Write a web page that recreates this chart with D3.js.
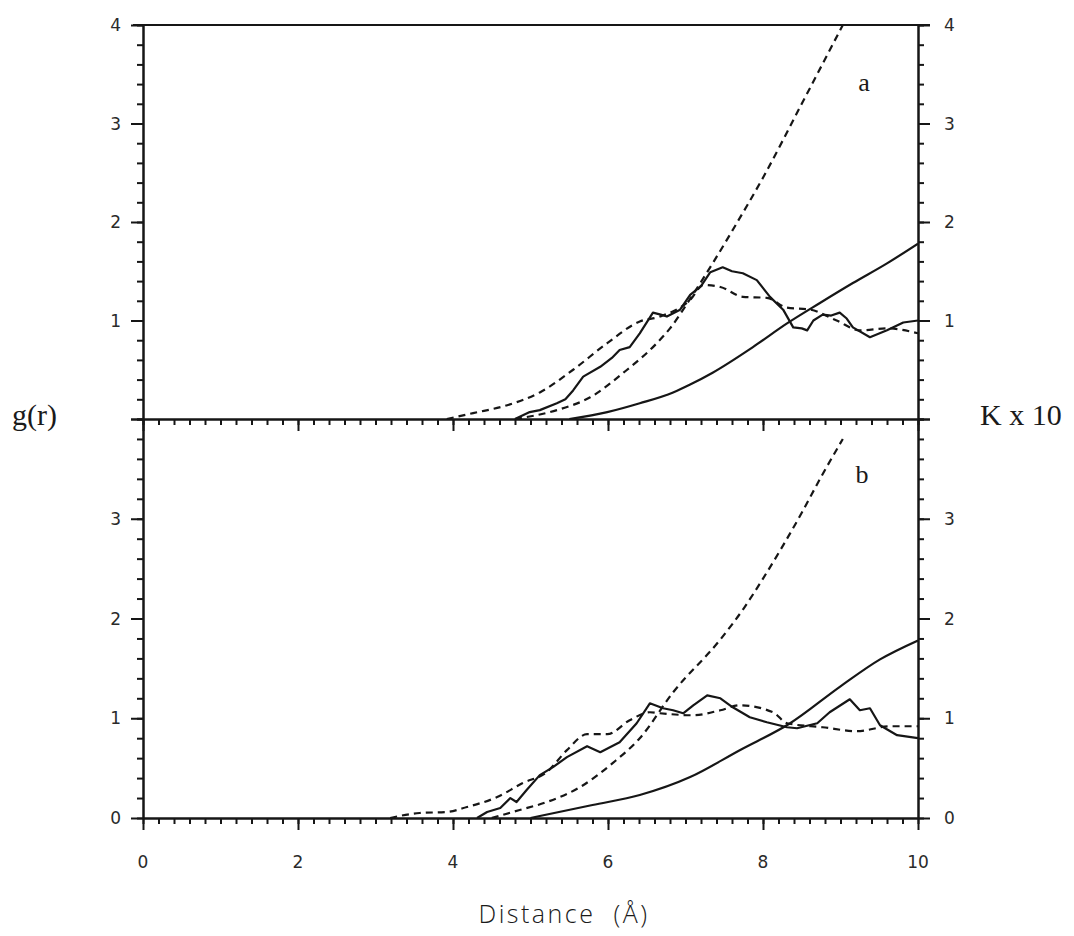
<!DOCTYPE html>
<html>
<head>
<meta charset="utf-8">
<script src="https://cdn.jsdelivr.net/npm/d3@7"></script>
<style>
  html, body { margin: 0; padding: 0; background: #fff; }
  svg { display: block; }
</style>
</head>
<body>
<svg id="chart" width="1074" height="936"></svg>
<script>
// ---------------- DATA ----------------
// Panel a: g(r) solid
const gSolidA_r = [4.8, 4.99, 5.12, 5.34, 5.45, 5.55, 5.68, 5.9, 6.05, 6.15, 6.28, 6.41, 6.5, 6.58, 6.68, 6.76, 6.93, 7.06, 7.2, 7.32, 7.48, 7.6, 7.74, 7.92, 8.09, 8.26, 8.39, 8.5, 8.57, 8.65, 8.77, 8.88, 8.99, 9.08, 9.16, 9.38, 9.6, 9.81, 10];
const gSolidA   = [0, 0.07, 0.09, 0.16, 0.2, 0.29, 0.43, 0.53, 0.62, 0.70, 0.73, 0.87, 0.98, 1.08, 1.06, 1.04, 1.11, 1.26, 1.35, 1.49, 1.54, 1.50, 1.48, 1.41, 1.24, 1.11, 0.93, 0.92, 0.90, 1.0, 1.06, 1.05, 1.08, 1.02, 0.93, 0.83, 0.9, 0.98, 1.0];
// Panel a: g(r) dashed
const gDashA_r = [3.92, 4.26, 4.7, 5.12, 5.55, 5.99, 6.41, 6.67, 7.06, 7.23, 7.45, 7.74, 8.05, 8.31, 8.61, 8.95, 9.25, 9.6, 10];
const gDashA   = [0, 0.06, 0.14, 0.27, 0.50, 0.77, 0.99, 1.04, 1.21, 1.36, 1.34, 1.24, 1.23, 1.13, 1.11, 1.0, 0.9, 0.92, 0.87];
// Panel a: K x 10 dashed
const kDashA_r = [4.8, 5.34, 5.77, 6.2, 6.63, 6.8, 7.06, 7.35, 7.61, 8.0, 8.5, 9.03];
const kDashA   = [0, 0.09, 0.22, 0.47, 0.77, 0.92, 1.22, 1.58, 1.92, 2.45, 3.2, 4.0];
// Panel a: K x 10 solid
const kSolidA_r = [5.5, 5.99, 6.41, 6.84, 7.06, 7.35, 7.87, 8.31, 8.74, 9.16, 9.6, 10];
const kSolidA   = [0, 0.07, 0.16, 0.27, 0.35, 0.47, 0.73, 0.97, 1.18, 1.38, 1.58, 1.78];

// Panel b: g(r) dashed
const gDashB_r = [3.19, 3.57, 3.92, 4.18, 4.57, 4.9, 5.21, 5.47, 5.73, 5.99, 6.28, 6.54, 6.67, 7.1, 7.45, 7.7, 8.13, 8.31, 8.77, 9.21, 9.64, 10];
const gDashB   = [0, 0.05, 0.06, 0.11, 0.21, 0.35, 0.46, 0.68, 0.84, 0.84, 0.98, 1.06, 1.05, 1.03, 1.08, 1.13, 1.06, 0.95, 0.91, 0.87, 0.92, 0.92];
// Panel b: g(r) solid
const gSolidB_r = [4.31, 4.44, 4.61, 4.74, 4.82, 4.95, 5.12, 5.29, 5.47, 5.73, 5.9, 6.15, 6.37, 6.54, 6.71, 6.84, 6.97, 7.1, 7.28, 7.45, 7.61, 7.83, 8.05, 8.31, 8.44, 8.7, 8.86, 9.12, 9.25, 9.38, 9.51, 9.73, 10];
const gSolidB   = [0, 0.06, 0.1, 0.2, 0.16, 0.28, 0.43, 0.51, 0.61, 0.72, 0.66, 0.76, 0.95, 1.15, 1.1, 1.08, 1.05, 1.13, 1.23, 1.20, 1.11, 1.01, 0.96, 0.91, 0.90, 0.95, 1.06, 1.19, 1.08, 1.1, 0.93, 0.83, 0.80];
// Panel b: K x 10 dashed
const kDashB_r = [4.5, 4.86, 5.21, 5.64, 6.06, 6.41, 6.84, 7.45, 7.75, 8.0, 8.25, 8.5, 8.75, 9.03];
const kDashB   = [0, 0.08, 0.16, 0.31, 0.55, 0.80, 1.26, 1.79, 2.1, 2.4, 2.72, 3.06, 3.42, 3.8];
// Panel b: K x 10 solid
const kSolidB_r = [5.0, 5.8, 6.41, 7.06, 7.7, 8.35, 9.0, 9.51, 10];
const kSolidB   = [0, 0.13, 0.23, 0.41, 0.68, 0.95, 1.32, 1.59, 1.78];

// Tick labels
const xTickLabels = [0, 2, 4, 6, 8, 10];
const yLabelsTop = [1, 2, 3, 4];
const yLabelsBottom = [0, 1, 2, 3];
const panelLetters = ["a", "b"];

// ---------------- LAYOUT ----------------
const svg = d3.select("#chart");
const ink = "#161616";
const X0 = 143, X1 = 918;
const x = d3.scaleLinear().domain([0, 10]).range([X0, X1]);
const yTop = d3.scaleLinear().domain([0, 4]).range([419, 25]);
const yBot = d3.scaleLinear().domain([0, 4]).range([818, 419]);

const minorX = d3.range(0, 10.001, 0.2).map(v => +v.toFixed(1));
const majorX = [0, 2, 4, 6, 8, 10];
const minorY = d3.range(0, 4.001, 0.2).map(v => +v.toFixed(1));
const majorY = [0, 1, 2, 3, 4];

function styleAxis(g) {
  g.selectAll("path.domain").attr("stroke", ink).attr("stroke-width", 2);
  g.selectAll(".tick line").attr("stroke", ink).attr("stroke-width", 2);
  g.selectAll(".tick text").remove();
}

// Frame top line
svg.append("line").attr("x1", 133).attr("x2", 930).attr("y1", 25).attr("y2", 25)
  .attr("stroke", ink).attr("stroke-width", 2);

// Vertical axes for each panel
[yTop, yBot].forEach(ys => {
  const gl = svg.append("g").attr("transform", `translate(${X0},0)`);
  gl.call(d3.axisLeft(ys).tickValues(minorY).tickSize(6).tickSizeOuter(0).tickFormat(""));
  styleAxis(gl);
  const gl2 = svg.append("g").attr("transform", `translate(${X0},0)`);
  gl2.call(d3.axisLeft(ys).tickValues(majorY).tickSize(12).tickSizeOuter(0).tickFormat(""));
  styleAxis(gl2);
  const gr = svg.append("g").attr("transform", `translate(${X1},0)`);
  gr.call(d3.axisRight(ys).tickValues(minorY).tickSize(6).tickSizeOuter(0).tickFormat(""));
  styleAxis(gr);
  const gr2 = svg.append("g").attr("transform", `translate(${X1},0)`);
  gr2.call(d3.axisRight(ys).tickValues(majorY).tickSize(12).tickSizeOuter(0).tickFormat(""));
  styleAxis(gr2);
});

// Horizontal axes (middle baseline and bottom)
[419, 818].forEach(yy => {
  const g1 = svg.append("g").attr("transform", `translate(0,${yy})`);
  g1.call(d3.axisBottom(x).tickValues(minorX).tickSize(6).tickSizeOuter(0).tickFormat(""));
  styleAxis(g1);
  const g2 = svg.append("g").attr("transform", `translate(0,${yy})`);
  g2.call(d3.axisBottom(x).tickValues(majorX).tickSize(12).tickSizeOuter(0).tickFormat(""));
  styleAxis(g2);
});

// ---------------- LABELS ----------------
const tickFont = "'DejaVu Sans', sans-serif";
svg.append("g").selectAll("text").data(xTickLabels).join("text")
  .attr("x", d => x(d)).attr("y", 868)
  .attr("text-anchor", "middle").attr("font-family", tickFont).attr("font-size", 17)
  .attr("fill", "#2a2a2a").text(d => d);

function yLabels(vals, ys) {
  svg.append("g").selectAll("text").data(vals).join("text")
    .attr("x", 121).attr("y", d => ys(d) + 6)
    .attr("text-anchor", "end").attr("font-family", tickFont).attr("font-size", 17)
    .attr("fill", "#2a2a2a").text(d => d);
  svg.append("g").selectAll("text").data(vals).join("text")
    .attr("x", 944).attr("y", d => ys(d) + 6)
    .attr("text-anchor", "start").attr("font-family", tickFont).attr("font-size", 17)
    .attr("fill", "#2a2a2a").text(d => d);
}
yLabels(yLabelsTop, yTop);
yLabels(yLabelsBottom, yBot);

svg.append("text").attr("x", 12).attr("y", 425)
  .attr("font-family", "'Liberation Serif', serif").attr("font-size", 30)
  .attr("fill", "#1a1a1a").text("g(r)");
svg.append("text").attr("x", 980).attr("y", 425)
  .attr("font-family", "'Liberation Serif', serif").attr("font-size", 30)
  .attr("fill", "#1a1a1a").text("K x 10");

svg.append("text").attr("x", 864).attr("y", 91).attr("text-anchor", "middle")
  .attr("font-family", "'Liberation Serif', serif").attr("font-size", 26)
  .attr("fill", "#1a1a1a").text(panelLetters[0]);
svg.append("text").attr("x", 862).attr("y", 483).attr("text-anchor", "middle")
  .attr("font-family", "'Liberation Serif', serif").attr("font-size", 26)
  .attr("fill", "#1a1a1a").text(panelLetters[1]);

svg.append("text").attr("x", 564).attr("y", 923).attr("text-anchor", "middle")
  .attr("font-family", "'Open Sans', sans-serif").attr("font-weight", 300).attr("font-size", 25)
  .attr("letter-spacing", 2.5).attr("xml:space", "preserve")
  .attr("fill", "#1a1a1a").text("Distance  (Å)");

// ---------------- CURVES ----------------
svg.append("defs").selectAll("clipPath").data([["clipTop", 25, 419], ["clipBot", 419, 818]]).join("clipPath")
  .attr("id", d => d[0])
  .append("rect").attr("x", X0).attr("y", d => d[1] - 1).attr("width", X1 - X0).attr("height", d => d[2] - d[1] + 2);

function drawSeries(rs, vs, ys, dashed, clip, smooth) {
  const pts = rs.map((r, i) => [r, vs[i]]);
  const line = d3.line().x(d => x(d[0])).y(d => ys(d[1]))
    .curve(smooth ? d3.curveMonotoneX : d3.curveLinear);
  svg.append("path").datum(pts)
    .attr("d", line).attr("fill", "none").attr("stroke", ink)
    .attr("stroke-width", 2.2)
    .attr("stroke-linejoin", "round")
    .attr("stroke-dasharray", dashed ? "7,5" : null)
    .attr("clip-path", `url(#${clip})`);
}

drawSeries(gSolidA_r, gSolidA, yTop, false, "clipTop", false);
drawSeries(gDashA_r, gDashA, yTop, true, "clipTop", true);
drawSeries(kDashA_r, kDashA, yTop, true, "clipTop", true);
drawSeries(kSolidA_r, kSolidA, yTop, false, "clipTop", true);

drawSeries(gDashB_r, gDashB, yBot, true, "clipBot", true);
drawSeries(gSolidB_r, gSolidB, yBot, false, "clipBot", false);
drawSeries(kDashB_r, kDashB, yBot, true, "clipBot", true);
drawSeries(kSolidB_r, kSolidB, yBot, false, "clipBot", true);
</script>
</body>
</html>
